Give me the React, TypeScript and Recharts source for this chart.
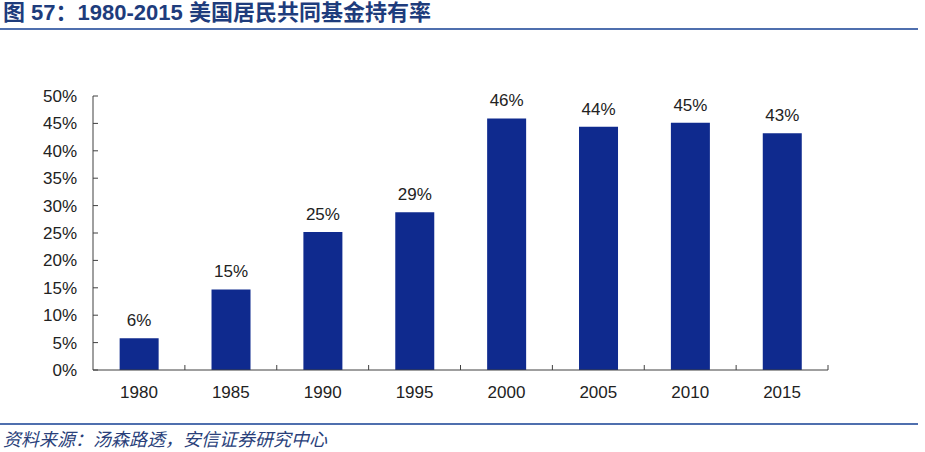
import React from "react";
import { BarChart, Bar, XAxis, YAxis, LabelList } from "recharts";

const years = ["1980", "1985", "1990", "1995", "2000", "2005", "2010", "2015"];
const holdingRate = [5.8, 14.7, 25.2, 28.8, 45.9, 44.4, 45.1, 43.2];
const yTicks = [0, 5, 10, 15, 20, 25, 30, 35, 40, 45, 50];

const titleText = "图 57：1980-2015 美国居民共同基金持有率";
const sourceText = "资料来源：汤森路透，安信证券研究中心";

const data = years.map((y, i) => ({ year: y, value: holdingRate[i] }));

const W = 925;
const H = 452;
const X_AXIS_H = 30;
const M = { top: 96, right: 97, bottom: 82 - X_AXIS_H, left: 33 };
const Y_AXIS_W = 60;
const AXIS_Y = H - 82;
const BAND = (W - M.left - Y_AXIS_W - M.right) / years.length;
const AXIS_COLOR = "#404040";
const FONT = "'Liberation Sans', Arial, sans-serif";

const XTick = (props: any) => {
  const { x, payload } = props;
  return (
    <g>
      <line x1={x + BAND / 2} x2={x + BAND / 2} y1={AXIS_Y} y2={AXIS_Y - 5} stroke={AXIS_COLOR} strokeWidth={1} />
      <text x={x} y={AXIS_Y + 28} textAnchor="middle" fontSize={17} fontFamily={FONT} fill="#222">
        {payload.value}
      </text>
    </g>
  );
};

const YTick = (props: any) => {
  const { y, payload } = props;
  const axisX = M.left + Y_AXIS_W;
  return (
    <g>
      <line x1={axisX} x2={axisX + 5} y1={y} y2={y} stroke={AXIS_COLOR} strokeWidth={1} />
      <text x={axisX - 16} y={y + 6} textAnchor="end" fontSize={17} fontFamily={FONT} fill="#222">
        {payload.value + "%"}
      </text>
    </g>
  );
};

export default function App() {
  return (
    <div style={{ position: "absolute", left: 0, top: 0, width: W, height: H, background: "#fff" }}>
      <div
        style={{
          position: "absolute",
          left: 3,
          top: 0,
          fontFamily: "'Liberation Sans', 'Noto Sans CJK SC', sans-serif",
          fontWeight: "bold",
          fontSize: 22,
          lineHeight: "26px",
          color: "#1e3c7c",
          whiteSpace: "nowrap",
        }}
      >
        {titleText}
      </div>
      <div style={{ position: "absolute", left: 0, top: 28, width: 918, height: 2, background: "#4f6fae" }} />
      <BarChart width={W} height={H} data={data} margin={M} barCategoryGap="29%">
        <XAxis
          dataKey="year"
          height={X_AXIS_H}
          axisLine={{ stroke: AXIS_COLOR }}
          tickLine={false}
          tick={<XTick />}
          interval={0}
        />
        <YAxis
          width={Y_AXIS_W}
          domain={[0, 50]}
          ticks={yTicks}
          axisLine={{ stroke: AXIS_COLOR }}
          tickLine={false}
          tick={<YTick />}
          interval={0}
        />
        <Bar dataKey="value" fill="#0f2a8e" isAnimationActive={false}>
          <LabelList
            dataKey="value"
            position="top"
            offset={12}
            formatter={(v: any) => Math.round(Number(v)) + "%"}
            style={{ fontSize: 17, fontFamily: FONT, fill: "#222" }}
          />
        </Bar>
      </BarChart>
      <div style={{ position: "absolute", left: 0, top: 423, width: 918, height: 2, background: "#4f6fae" }} />
      <div
        style={{
          position: "absolute",
          left: 3,
          top: 427,
          fontFamily: "'Noto Sans CJK SC', sans-serif",
          fontStyle: "italic",
          fontSize: 18,
          lineHeight: "22px",
          color: "#2a3f7a",
          whiteSpace: "nowrap",
        }}
      >
        {sourceText}
      </div>
    </div>
  );
}
